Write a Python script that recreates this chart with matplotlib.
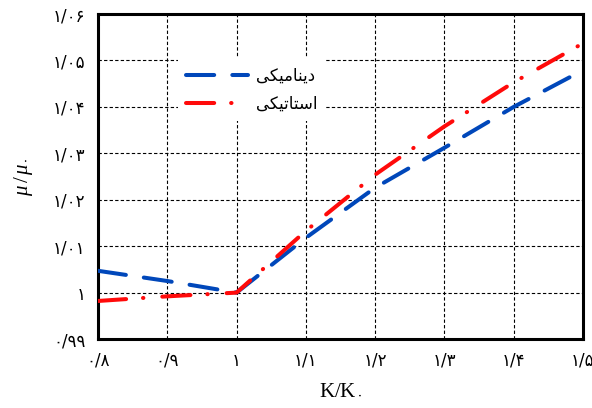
import numpy as np
import matplotlib
matplotlib.use('Agg')
import matplotlib.pyplot as plt
from matplotlib.ticker import FixedLocator, FixedFormatter

# داده ها (خوانده شده از نمودار)
k_ratio = [0.8, 0.9, 1.0, 1.1, 1.2, 1.3, 1.4, 1.5]
mu_dynamic = [1.0047, 1.0025, 1.0, 1.0118, 1.0226, 1.0312, 1.0400, 1.0479]
mu_static = [0.9982, 0.9992, 1.0, 1.0133, 1.0254, 1.0358, 1.0453, 1.0537]

x_ticks = [0.8, 0.9, 1.0, 1.1, 1.2, 1.3, 1.4, 1.5]
x_tick_labels = ['۰/۸', '۰/۹', '۱', '۱/۱', '۱/۲', '۱/۳', '۱/۴', '۱/۵']
y_ticks = [0.99, 1.0, 1.01, 1.02, 1.03, 1.04, 1.05, 1.06]
y_tick_labels = ['۰/۹۹', '۱', '۱/۰۱', '۱/۰۲', '۱/۰۳', '۱/۰۴', '۱/۰۵', '۱/۰۶']

# "دینامیکی" و "استاتیکی" به صورت حروف پیوسته (ترتیب نمایشی)
label_dynamic = '\uFEF0\uFEDC\uFEF4\uFEE3\uFE8E\uFEE8\uFEF3\uFEA9'
label_static = '\uFEF0\uFEDC\uFEF4\uFE97\uFE8E\uFE98\uFEB3\uFE8D'

plt.rcParams['font.family'] = ['DejaVu Sans']
plt.rcParams['mathtext.fontset'] = 'custom'
plt.rcParams['mathtext.rm'] = 'Liberation Serif'
plt.rcParams['mathtext.it'] = 'Liberation Serif:italic'
plt.rcParams['mathtext.sf'] = 'DejaVu Sans'

fig = plt.figure(figsize=(5.92, 4.08), dpi=100)
ax = fig.add_axes([0.1655, 0.169, 0.8193, 0.7966])

lw = 2.9
ax.plot(k_ratio, mu_dynamic, color='#0047ba', lw=lw, ls=(0, (7.0, 4.5)),
        dash_capstyle='round', label=label_dynamic, zorder=3)
ax.plot(k_ratio, mu_static, color='#ff0a0a', lw=lw, ls=(0, (7.0, 4.2, 0.1, 4.7)),
        dash_capstyle='round', label=label_static, zorder=3)

ax.set_xlim(0.8, 1.5)
ax.set_ylim(0.99, 1.06)
ax.xaxis.set_major_locator(FixedLocator(x_ticks))
ax.xaxis.set_major_formatter(FixedFormatter(x_tick_labels))
ax.yaxis.set_major_locator(FixedLocator(y_ticks))
ax.yaxis.set_major_formatter(FixedFormatter(y_tick_labels))
ax.tick_params(length=0, labelsize=12, pad=9)

ax.grid(True, color='black', ls=(0, (3, 2)), lw=0.8)
ax.set_axisbelow(True)
for s in ax.spines.values():
    s.set_linewidth(2.2)

ax.set_ylabel(r'$\mu\,/\,\mu_{\mathsf{۰}}$', fontsize=15)
ax.yaxis.set_label_coords(-0.13, 0.5)
ax.set_xlabel(r'$\mathrm{K/K}_{\mathsf{۰}}$', fontsize=15)
ax.xaxis.set_label_coords(0.5, -0.12)

leg = ax.legend(loc='upper left', bbox_to_anchor=(0.165, 0.864), fontsize=12,
                frameon=True, facecolor='white', edgecolor='none', framealpha=1,
                fancybox=False, handlelength=3.7, handletextpad=0.5,
                borderpad=0.5, labelspacing=0.6, borderaxespad=0)

fig.savefig('out.png', dpi=100)
